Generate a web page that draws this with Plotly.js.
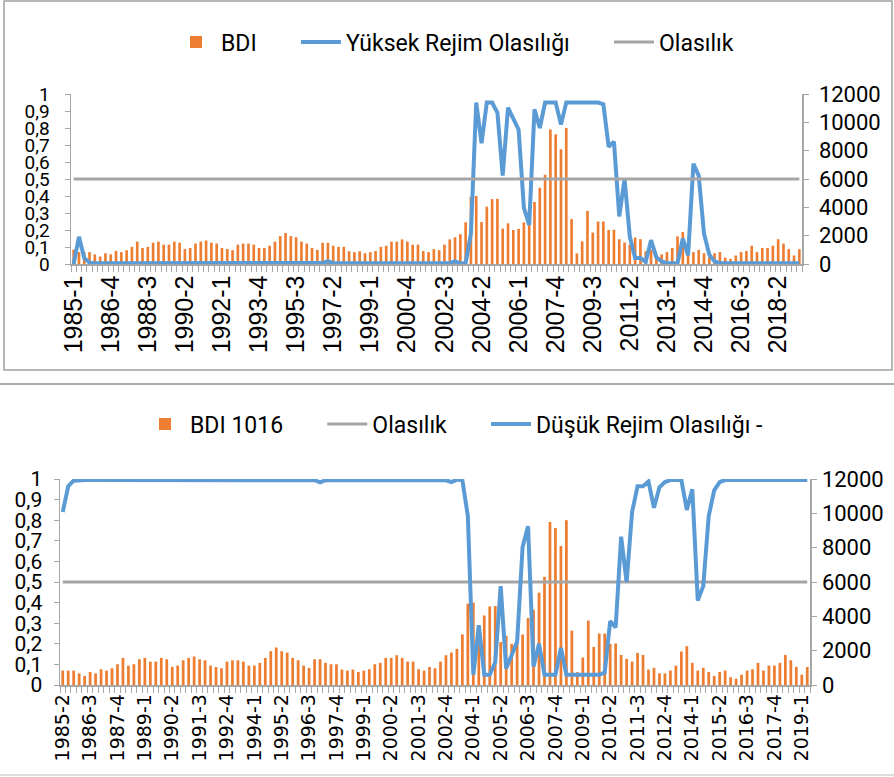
<!DOCTYPE html>
<html>
<head>
<meta charset="utf-8">
<script src="https://cdn.plot.ly/plotly-3.0.1.min.js"></script>
<style>
    html, body { margin: 0; padding: 0; background: #fff; }
    #chart { width: 894px; height: 777px; }
</style>
</head>
<body>
<div id="chart"></div>
<script>
// quarterly BDI, 1985-1 ... 2019-2
let bdi = [
    1010, 840, 840, 840, 680, 530, 760, 680, 920, 840,
    975, 1210, 1580, 1130, 1210, 1500, 1580, 1365, 1365, 1580,
    1500, 1050, 1130, 1440, 1580, 1660, 1500, 1440, 1130, 1050,
    975, 1365, 1440, 1440, 1365, 1130, 1130, 1290, 1580, 1970,
    2185, 1970, 1890, 1580, 1440, 1130, 995, 1500, 1500, 1290,
    1210, 1210, 900, 840, 900, 760, 840, 920, 1210, 1290,
    1580, 1580, 1735, 1580, 1365, 1365, 920, 840, 1050, 975,
    1365, 1735, 1890, 2105, 2945, 4740, 4800, 2960, 4050, 4580,
    4600, 2500, 2870, 2400, 2480, 2940, 3900, 4380, 5380, 6300,
    9500, 9150, 8100, 9600, 3170, 750, 1600, 3750, 2220, 3000,
    3000, 2400, 2420, 1750, 1520, 1365, 1870, 1750, 900, 1000,
    680, 680, 840, 1130, 1950, 2260, 1290, 840, 1000, 760,
    530, 760, 840, 450, 370, 600, 840, 920, 1290, 840,
    1130, 1130, 1290, 1750, 1440, 1050, 600, 1050
];

// high regime probability, 1985-1 ... 2019-2
let yuksekRejim = [
    0, 0.16, 0.035, 0.008, 0.005, 0.005, 0.005, 0.005, 0.005, 0.005,
    0.005, 0.005, 0.005, 0.005, 0.005, 0.005, 0.005, 0.005, 0.005, 0.005,
    0.005, 0.005, 0.005, 0.005, 0.005, 0.005, 0.005, 0.005, 0.005, 0.005,
    0.005, 0.005, 0.005, 0.005, 0.005, 0.005, 0.005, 0.005, 0.005, 0.005,
    0.005, 0.005, 0.005, 0.005, 0.005, 0.005, 0.005, 0.006, 0.016, 0.006,
    0.005, 0.005, 0.005, 0.005, 0.005, 0.005, 0.005, 0.005, 0.005, 0.005,
    0.005, 0.005, 0.005, 0.005, 0.005, 0.005, 0.005, 0.005, 0.005, 0.005,
    0.005, 0.006, 0.015, 0.003, 0.006, 0.18, 0.95, 0.71, 0.95, 0.95,
    0.89, 0.52, 0.92, 0.86, 0.79, 0.33, 0.23, 0.91, 0.80, 0.95,
    0.95, 0.95, 0.82, 0.95, 0.95, 0.95, 0.95, 0.95, 0.95, 0.95,
    0.94, 0.69, 0.72, 0.28, 0.50, 0.16, 0.035, 0.035, 0.012, 0.14,
    0.04, 0.015, 0.005, 0.005, 0.005, 0.15, 0.05, 0.59, 0.52, 0.18,
    0.055, 0.015, 0.005, 0.005, 0.005, 0.005, 0.005, 0.005, 0.005, 0.005,
    0.005, 0.005, 0.005, 0.005, 0.005, 0.005, 0.005, 0.005
];

// low regime probability, 1985-2 ... 2019-2
let dusukRejim = [
    0.84, 0.965, 0.992, 0.995, 0.995, 0.995, 0.995, 0.995, 0.995, 0.995,
    0.995, 0.995, 0.995, 0.995, 0.995, 0.995, 0.995, 0.995, 0.995, 0.995,
    0.995, 0.995, 0.995, 0.995, 0.995, 0.995, 0.995, 0.995, 0.995, 0.995,
    0.995, 0.995, 0.995, 0.995, 0.995, 0.995, 0.995, 0.995, 0.995, 0.995,
    0.995, 0.995, 0.995, 0.995, 0.995, 0.995, 0.994, 0.984, 0.994, 0.995,
    0.995, 0.995, 0.995, 0.995, 0.995, 0.995, 0.995, 0.995, 0.995, 0.995,
    0.995, 0.995, 0.995, 0.995, 0.995, 0.995, 0.995, 0.995, 0.995, 0.995,
    0.994, 0.985, 0.997, 0.994, 0.82, 0.05, 0.29, 0.05, 0.05, 0.11,
    0.48, 0.08, 0.14, 0.21, 0.67, 0.77, 0.09, 0.20, 0.05, 0.05,
    0.05, 0.18, 0.05, 0.05, 0.05, 0.05, 0.05, 0.05, 0.05, 0.06,
    0.31, 0.28, 0.72, 0.50, 0.84, 0.965, 0.965, 0.988, 0.86, 0.96,
    0.985, 0.995, 0.995, 0.995, 0.85, 0.95, 0.41, 0.48, 0.82, 0.945,
    0.985, 0.995, 0.995, 0.995, 0.995, 0.995, 0.995, 0.995, 0.995, 0.995,
    0.995, 0.995, 0.995, 0.995, 0.995, 0.995, 0.995
];

let esik = 0.5; // "Olasılık" reference line

let solTickVals = [0, 0.1, 0.2, 0.3, 0.4, 0.5, 0.6, 0.7, 0.8, 0.9, 1];
let solTickText = ['0', '0,1', '0,2', '0,3', '0,4', '0,5', '0,6', '0,7', '0,8', '0,9', '1'];
let sagTickVals = [0, 2000, 4000, 6000, 8000, 10000, 12000];
let sagTickText = ['0', '2000', '4000', '6000', '8000', '10000', '12000'];

// quarter labels
let kategoriler = [];
for (let yil = 1985; yil <= 2019; yil++) {
    for (let c = 1; c <= 4; c++) {
        if (yil === 2019 && c > 2) break;
        kategoriler.push(yil + '-' + c);
    }
}
let altKategoriler = kategoriler.slice(1);

let ORANGE = '#ED7D31', BLUE = '#5B9BD5', GRAY = '#A5A5A5', AXIS = '#A6A6A6';
let W = 894, H = 777;
let px = (x) => x / W;
let py = (y) => 1 - y / H;

let yaziFont = 'Roboto, "Open Sans", sans-serif';
let bosluk = '\u00a0\u00a0\u00a0\u00a0\u00a0\u00a0'; // extra room between legend items

let traces = [
    // top chart
    {type: 'bar', x: kategoriler, y: bdi, name: 'BDI' + bosluk, xaxis: 'x', yaxis: 'y',
        marker: {color: ORANGE}, legend: 'legend'},
    {type: 'scatter', mode: 'lines', x: kategoriler, y: yuksekRejim, name: 'Yüksek Rejim Olasılığı' + bosluk,
        xaxis: 'x', yaxis: 'y2', line: {color: BLUE, width: 4}, legend: 'legend'},
    {type: 'scatter', mode: 'lines', x: kategoriler, y: kategoriler.map(() => esik), name: 'Olasılık',
        xaxis: 'x', yaxis: 'y2', line: {color: GRAY, width: 3}, legend: 'legend'},
    // bottom chart
    {type: 'bar', x: altKategoriler, y: bdi.slice(1), name: 'BDI 1016' + bosluk, xaxis: 'x2', yaxis: 'y3',
        marker: {color: ORANGE}, legend: 'legend2'},
    {type: 'scatter', mode: 'lines', x: altKategoriler, y: altKategoriler.map(() => esik), name: 'Olasılık' + bosluk,
        xaxis: 'x2', yaxis: 'y4', line: {color: GRAY, width: 3}, legend: 'legend2'},
    {type: 'scatter', mode: 'lines', x: altKategoriler, y: dusukRejim, name: 'Düşük Rejim Olasılığı -',
        xaxis: 'x2', yaxis: 'y4', line: {color: BLUE, width: 4}, legend: 'legend2'},
];

function xEkseni(cats, step, domain, anchor, font) {
    return {
        domain: domain, anchor: anchor, type: 'category',
        tickvals: cats,
        ticktext: cats.map((c, i) => i % step === 0 ? c : ''),
        tickangle: -90, ticks: 'outside', tickson: 'boundaries', ticklen: 6,
        tickcolor: AXIS, tickwidth: 1,
        showline: true, linecolor: AXIS, linewidth: 1.5,
        showgrid: false, zeroline: false,
        tickfont: font
    };
}

function yEkseni(size, extra) {
    return Object.assign({
        showline: true, linecolor: AXIS, linewidth: 1.5,
        ticks: 'outside', ticklen: 5, tickcolor: AXIS,
        showgrid: false, zeroline: false,
        tickfont: {family: yaziFont, size: size, color: '#000'}
    }, extra);
}

let legendOrtak = {
    orientation: 'h', xanchor: 'center', yanchor: 'middle',
    font: {family: yaziFont, size: 23, color: '#000'},
    bgcolor: 'rgba(0,0,0,0)', itemwidth: 40
};

let layout = {
    width: W, height: H,
    margin: {l: 0, r: 0, t: 0, b: 0},
    paper_bgcolor: '#fff', plot_bgcolor: 'rgba(0,0,0,0)',
    bargap: 0.5,
    showlegend: true,
    legend: Object.assign({x: px(455), y: py(42)}, legendOrtak),
    legend2: Object.assign({x: px(454), y: py(424)}, legendOrtak),

    xaxis: xEkseni(kategoriler, 7, [px(71), px(802)], 'y',
        {family: '"Liberation Sans", Arial, sans-serif', size: 25, color: '#000'}),
    yaxis: yEkseni(22, {domain: [py(264), py(94)], anchor: 'x', side: 'right', range: [0, 12000],
        tickvals: sagTickVals, ticktext: sagTickText, ticklabelstandoff: 6}),
    yaxis2: yEkseni(19, {overlaying: 'y', anchor: 'x', side: 'left', range: [0, 1],
        tickvals: solTickVals, ticktext: solTickText, ticklabelstandoff: 11}),

    xaxis2: xEkseni(altKategoriler, 5, [px(60), px(810)], 'y3',
        {family: '"DejaVu Sans", Verdana, sans-serif', size: 19, color: '#000'}),
    yaxis3: yEkseni(22, {domain: [py(685), py(479)], anchor: 'x2', side: 'right', range: [0, 12000],
        tickvals: sagTickVals, ticktext: sagTickText, ticklabelstandoff: 1}),
    yaxis4: yEkseni(21, {overlaying: 'y3', anchor: 'x2', side: 'left', range: [0, 1],
        tickvals: solTickVals, ticktext: solTickText, ticklabelstandoff: 7}),

    shapes: [
        {type: 'rect', xref: 'paper', yref: 'paper', x0: px(4), x1: px(892), y0: py(370), y1: py(1),
            line: {color: '#A0A0A0', width: 1.5}},
        {type: 'line', xref: 'paper', yref: 'paper', x0: 0, x1: 1, y0: py(384), y1: py(384),
            line: {color: '#8C8C8C', width: 1.5}},
        {type: 'line', xref: 'paper', yref: 'paper', x0: 0, x1: 1, y0: py(775), y1: py(775),
            line: {color: '#D0D0D0', width: 1.5}}
    ]
};

let config = {staticPlot: true, displayModeBar: false};

Plotly.newPlot('chart', traces, layout, config);
</script>
</body>
</html>
